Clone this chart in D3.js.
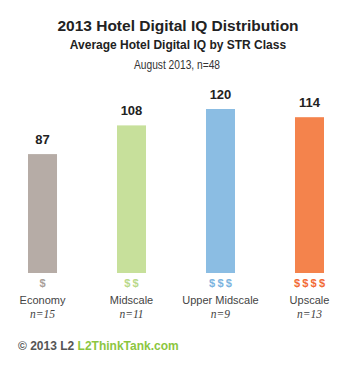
<!DOCTYPE html>
<html><head><meta charset="utf-8">
<script src="https://cdn.jsdelivr.net/npm/d3@7"></script>
<style>body{margin:0;background:#fff}svg{display:block}</style>
</head><body>
<script>
const categories = ["Economy","Midscale","Upper Midscale","Upscale"];
const values = [87,108,120,114];
const dollarLabels = ["$","$$","$$$","$$$$"];
const nLabels = ["n=15","n=11","n=9","n=13"];
const colors = ["#b6aca6","#c7e09b","#8bbde3","#f4834c"];
const dollarColors = ["#a9a09a","#b9d98a","#7cb4e0","#f26b35"];

const W=360,H=367;
const svg=d3.select("body").append("svg").attr("width",W).attr("height",H);
const x=d3.scaleBand().domain(categories).range([-16.5,368.5]).paddingInner(0.674).paddingOuter(0.5);
const y=d3.scaleLinear().domain([0,120]).range([273,109]);
const font="'Liberation Sans', Arial, Helvetica, sans-serif";

svg.append("text").attr("x",178).attr("y",31).attr("text-anchor","middle")
  .style("font-family",font).style("font-weight","bold").style("font-size","15.5px").attr("fill","#222")
  .text("2013 Hotel Digital IQ Distribution");
svg.append("text").attr("x",178).attr("y",49).attr("text-anchor","middle")
  .style("font-family",font).style("font-weight","bold").style("font-size","12px").attr("fill","#222")
  .text("Average Hotel Digital IQ by STR Class");
svg.append("text").attr("x",177).attr("y",68.5).attr("text-anchor","middle")
  .attr("textLength",86).attr("lengthAdjust","spacingAndGlyphs")
  .style("font-family",font).style("font-size","12.5px").attr("fill","#333")
  .text("August 2013, n=48");

const g=svg.append("g");
g.selectAll("rect").data(values).join("rect")
  .attr("x",(d,i)=>x(categories[i])).attr("width",x.bandwidth())
  .attr("y",d=>y(d)).attr("height",d=>y(0)-y(d)).attr("fill",(d,i)=>colors[i]);
g.selectAll("text.val").data(values).join("text").attr("class","val")
  .attr("x",(d,i)=>x(categories[i])+x.bandwidth()/2).attr("y",d=>y(d)-10)
  .attr("text-anchor","middle").style("font-family",font).style("font-weight","bold")
  .style("font-size","13px").attr("fill","#222").text(d=>d);
g.selectAll("text.dol").data(dollarLabels).join("text").attr("class","dol")
  .attr("x",(d,i)=>x(categories[i])+x.bandwidth()/2).attr("y",287)
  .attr("text-anchor","middle").style("font-family",font).style("font-weight","bold")
  .style("font-size","11px").attr("fill",(d,i)=>dollarColors[i]).text(d=>d.split("").join("\u2009"));
g.selectAll("text.cat").data(categories).join("text").attr("class","cat")
  .attr("x",d=>x(d)+x.bandwidth()/2).attr("y",304)
  .attr("text-anchor","middle").style("font-family",font)
  .style("font-size","11px").attr("fill","#444").text(d=>d);
g.selectAll("text.n").data(nLabels).join("text").attr("class","n")
  .attr("x",(d,i)=>x(categories[i])+x.bandwidth()/2).attr("y",318)
  .attr("text-anchor","middle").style("font-family","'Liberation Serif', 'Times New Roman', serif")
  .style("font-style","italic").style("font-size","11.5px").attr("fill","#444").text(d=>d);

const ft=svg.append("text").attr("x",18).attr("y",350).style("font-family",font)
  .style("font-weight","bold").style("font-size","12px");
ft.append("tspan").attr("fill","#555").text("\u00a9 2013 L2 ");
ft.append("tspan").attr("fill","#8cc63f").text("L2ThinkTank.com");
</script>
</body></html>
